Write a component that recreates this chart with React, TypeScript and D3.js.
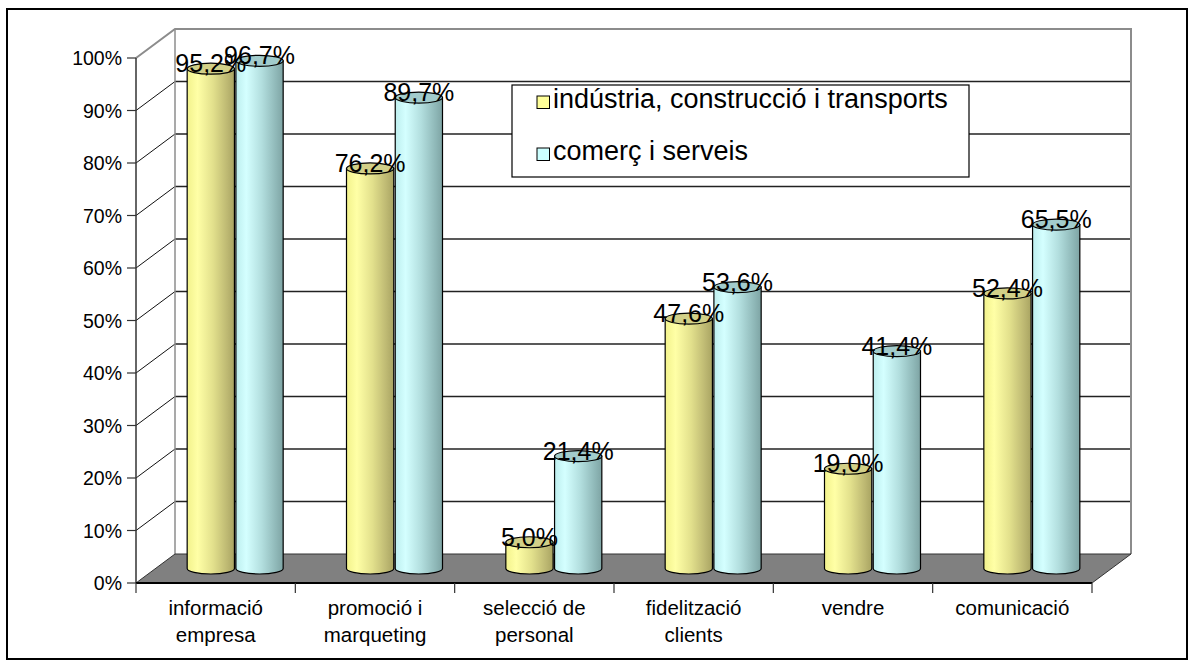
import { useRef, useEffect } from "react";
import * as d3 from "d3";

const categories = [
  "informació\nempresa",
  "promoció i\nmarqueting",
  "selecció de\npersonal",
  "fidelització\nclients",
  "vendre",
  "comunicació",
];
const seriesNames = ["indústria, construcció i transports", "comerç i serveis"];
const industria = [95.2, 76.2, 5.0, 47.6, 19.0, 52.4];
const comerc = [96.7, 89.7, 21.4, 53.6, 41.4, 65.5];
const yTicks = [0, 10, 20, 30, 40, 50, 60, 70, 80, 90, 100];

const FONT = "'Liberation Sans', Arial, sans-serif";

export default function App() {
  const svgRef = useRef<SVGSVGElement>(null);

  useEffect(() => {
    if (!svgRef.current) return;
    const W = 1194, H = 666;
    const svg = d3.select(svgRef.current);
    svg.selectAll("*").remove();
    svg.attr("width", W).attr("height", H);

    // depth offset of the 3D box
    const dx = 39, dy = 29;
    const x0 = 136, x1 = 1092;

    const y = d3.scaleLinear().domain([0, 100]).range([583, 58]);
    const x = d3.scaleBand<string>().domain(categories).range([x0, x1]).paddingInner(0);

    const defs = svg.append("defs");
    const mkGrad = (id: string, stops: [number, string][]) => {
      const g = defs.append("linearGradient").attr("id", id).attr("x1", "0%").attr("x2", "100%").attr("y1", "0%").attr("y2", "0%");
      stops.forEach(([o, c]) => g.append("stop").attr("offset", `${o}%`).attr("stop-color", c));
    };
    mkGrad("gYel", [[0, "#f2f28c"], [22, "#ffffa6"], [55, "#e2e08c"], [85, "#bdb872"], [100, "#a9a462"]]);
    mkGrad("gBlu", [[0, "#bdeeee"], [22, "#d4ffff"], [55, "#b2dede"], [85, "#8fb8b8"], [100, "#7ea4a4"]]);
    const topFill = ["#d2d088", "#a2cccc"];
    const bodyFill = ["url(#gYel)", "url(#gBlu)"];
    const swatch = ["#ffff99", "#ccffff"];

    // outer frame
    svg.append("rect").attr("x", 7).attr("y", 9).attr("width", 1180).attr("height", 650)
      .attr("fill", "white").attr("stroke", "black").attr("stroke-width", 2);

    // walls
    svg.append("rect").attr("x", x0 + dx).attr("y", y(100) - dy).attr("width", x1 - x0)
      .attr("height", y(0) - y(100)).attr("fill", "white");

    // gridlines (side wall diagonal + back wall)
    yTicks.filter((t) => t > 0 && t < 100).forEach((t) => {
      svg.append("line").attr("x1", x0).attr("y1", y(t)).attr("x2", x0 + dx).attr("y2", y(t) - dy)
        .attr("stroke", "#111").attr("stroke-width", 1);
      svg.append("line").attr("x1", x0 + dx).attr("y1", y(t) - dy).attr("x2", x1 + dx).attr("y2", y(t) - dy)
        .attr("stroke", "#222").attr("stroke-width", 1.3);
    });

    // wall borders
    svg.append("path")
      .attr("d", `M${x0},${y(100)} L${x0 + dx},${y(100) - dy} L${x1 + dx},${y(100) - dy} L${x1 + dx},${y(0) - dy}`)
      .attr("fill", "none").attr("stroke", "#8c8c8c").attr("stroke-width", 2);
    svg.append("line").attr("x1", x0 + dx).attr("y1", y(100) - dy).attr("x2", x0 + dx).attr("y2", y(0) - dy)
      .attr("stroke", "#8c8c8c").attr("stroke-width", 1.5);

    // floor
    svg.append("path")
      .attr("d", `M${x0},${y(0)} L${x1},${y(0)} L${x1 + dx},${y(0) - dy} L${x0 + dx},${y(0) - dy} Z`)
      .attr("fill", "#808080").attr("stroke", "#333").attr("stroke-width", 1);

    // y axis
    svg.append("line").attr("x1", x0).attr("y1", y(100)).attr("x2", x0).attr("y2", y(0))
      .attr("stroke", "#333").attr("stroke-width", 1.5);
    yTicks.forEach((t) => {
      svg.append("line").attr("x1", x0 - 9).attr("y1", y(t)).attr("x2", x0).attr("y2", y(t))
        .attr("stroke", "#333").attr("stroke-width", 1.2);
      svg.append("text").attr("x", x0 - 14).attr("y", y(t)).attr("dy", "0.36em")
        .attr("text-anchor", "end").attr("font-family", FONT).attr("font-size", 19.5)
        .attr("fill", "black").text(`${t}%`);
    });

    // x axis
    svg.append("line").attr("x1", x0).attr("y1", y(0)).attr("x2", x1).attr("y2", y(0))
      .attr("stroke", "black").attr("stroke-width", 2);
    const bounds = [...categories.map((c) => x(c)!), x1];
    bounds.forEach((bx) => {
      svg.append("line").attr("x1", bx).attr("y1", y(0)).attr("x2", bx).attr("y2", y(0) + 10)
        .attr("stroke", "#333").attr("stroke-width", 1.2);
    });
    categories.forEach((c) => {
      const cx = x(c)! + x.bandwidth() / 2;
      const lines = c.split("\n");
      const t = svg.append("text").attr("text-anchor", "middle").attr("font-family", FONT)
        .attr("font-size", 20.5).attr("fill", "black");
      lines.forEach((ln, i) => {
        t.append("tspan").attr("x", cx).attr("y", 615 + i * 27).text(ln);
      });
    });

    // cylinders
    const inner = d3.scaleBand<number>().domain([0, 1]).range([-48, 48]).paddingInner(0.03);
    const r = inner.bandwidth() / 2;
    const ry = 5.5;
    const series = [industria, comerc];
    const labels: { cx: number; ty: number; v: number }[] = [];

    categories.forEach((c, ci) => {
      const center = x(c)! + x.bandwidth() / 2 + dx / 2;
      series.forEach((vals, si) => {
        const v = vals[ci];
        const cx = center + inner(si)! + r;
        const by = y(0) - dy / 2;
        const ty = y(v) - dy / 2;
        svg.append("path")
          .attr("d", `M${cx - r},${ty} L${cx - r},${by} A${r},${ry} 0 0 0 ${cx + r},${by} L${cx + r},${ty} Z`)
          .attr("fill", bodyFill[si]).attr("stroke", "black").attr("stroke-width", 1.2);
        svg.append("ellipse").attr("cx", cx).attr("cy", ty).attr("rx", r).attr("ry", ry)
          .attr("fill", topFill[si]).attr("stroke", "black").attr("stroke-width", 1.2);
        labels.push({ cx, ty, v });
      });
    });

    labels.forEach((l) => {
      svg.append("text").attr("x", l.cx).attr("y", l.ty + 3.5).attr("text-anchor", "middle")
        .attr("font-family", FONT).attr("font-size", 25).attr("fill", "black")
        .text(`${l.v.toFixed(1).replace(".", ",")}%`);
    });

    // legend
    const lg = svg.append("g");
    lg.append("rect").attr("x", 512).attr("y", 85).attr("width", 457).attr("height", 92)
      .attr("fill", "white").attr("stroke", "black").attr("stroke-width", 1.2);
    seriesNames.forEach((name, i) => {
      const yy = 96 + i * 52;
      lg.append("rect").attr("x", 537).attr("y", yy).attr("width", 12.5).attr("height", 12.5)
        .attr("fill", swatch[i]).attr("stroke", "black").attr("stroke-width", 1);
      lg.append("text").attr("x", 553).attr("y", yy + 11.5).attr("font-family", FONT)
        .attr("font-size", 27).attr("fill", "black").text(name);
    });
  }, []);

  return (
    <div style={{ position: "absolute", left: 0, top: 0 }}>
      <svg ref={svgRef} style={{ display: "block" }} />
    </div>
  );
}
